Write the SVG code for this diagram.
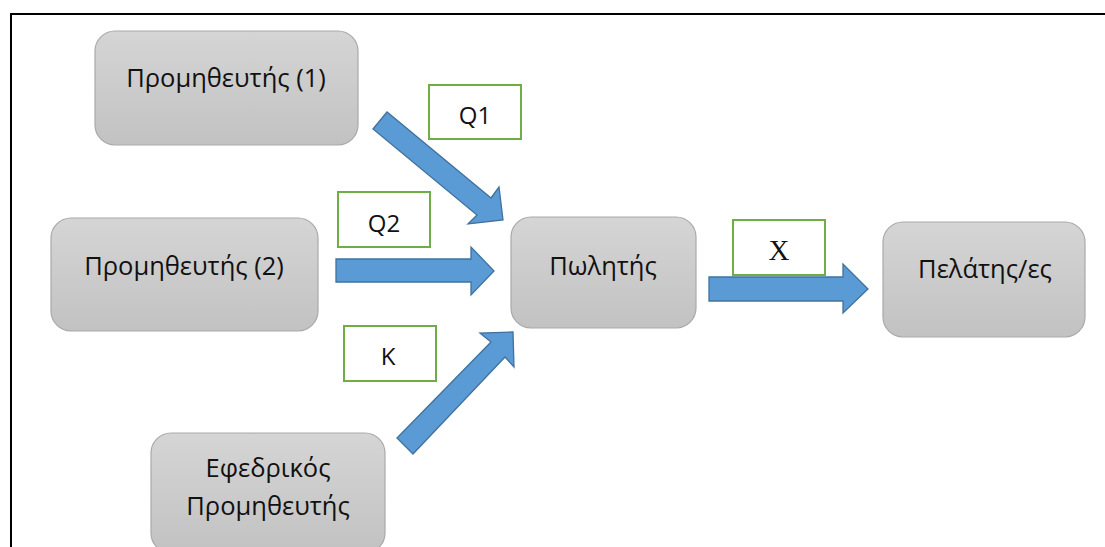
<svg xmlns="http://www.w3.org/2000/svg" width="1105" height="547" viewBox="0 0 1105 547">
  <defs>
    <linearGradient id="nodeFill" x1="0" y1="0" x2="0" y2="1">
      <stop offset="0" stop-color="#d5d5d5"/>
      <stop offset="1" stop-color="#c2c2c2"/>
    </linearGradient>
    <style>
      .node { fill: url(#nodeFill); stroke: #a9a9a9; stroke-width: 1.2; }
      .lbl { font-family: "Open Sans", "Liberation Sans", sans-serif; font-size: 25.5px; fill: #111; text-anchor: middle; }
      .tag { fill: #fff; stroke: #70ad47; stroke-width: 2; }
      .tagtxt { font-family: "Open Sans", "Liberation Sans", sans-serif; font-size: 24px; fill: #111; text-anchor: middle; }
      .arrow { fill: #5b9bd5; stroke: #41719c; stroke-width: 1.3; stroke-linejoin: miter; }
    </style>
  </defs>
  <rect width="1105" height="547" fill="#fff"/>
  <!-- frame -->
  <path d="M11 547 V14 H1105" fill="none" stroke="#000" stroke-width="2"/>

  <g id="supplier1">
    <rect class="node" x="95" y="31" width="263" height="114" rx="20"/>
    <text class="lbl" x="226" y="87">Προμηθευτής (1)</text>
  </g>
  <g id="supplier2">
    <rect class="node" x="51" y="218" width="267" height="113" rx="20"/>
    <text class="lbl" x="184" y="275">Προμηθευτής (2)</text>
  </g>
  <g id="reserve-supplier">
    <rect class="node" x="151" y="433" width="234" height="120" rx="20"/>
    <text class="lbl" x="268" y="477">Εφεδρικός</text>
    <text class="lbl" x="268" y="515">Προμηθευτής</text>
  </g>
  <g id="seller">
    <rect class="node" x="511" y="217" width="185" height="111" rx="20"/>
    <text class="lbl" x="603" y="275">Πωλητής</text>
  </g>
  <g id="customers">
    <rect class="node" x="883" y="222" width="202" height="115" rx="20"/>
    <text class="lbl" x="985" y="278">Πελάτης/ες</text>
  </g>

  <g id="connectors">
    <polygon class="arrow" points="373,129 387,112 491,198 499,187 503,220 468,224 477,215"/>
    <polygon class="arrow" points="336,259 471,259 471,247 494,271 471,295 471,282 336,282"/>
    <polygon class="arrow" points="709,277 843,277 843,264 868,289 843,313 843,301 709,301"/>
    <polygon class="arrow" points="397,438 491,342 480,333 513,332 514,367 505,357 413,454"/>
  </g>

  <g id="tag-q1">
    <rect class="tag" x="429" y="85" width="92" height="54"/>
    <text class="tagtxt" x="475" y="124">Q1</text>
  </g>
  <g id="tag-q2">
    <rect class="tag" x="338" y="192" width="92" height="55"/>
    <text class="tagtxt" x="384" y="232">Q2</text>
  </g>
  <g id="tag-k">
    <rect class="tag" x="344" y="326" width="92" height="55"/>
    <text class="tagtxt" x="388" y="365">Κ</text>
  </g>
  <g id="tag-x">
    <rect class="tag" x="733" y="220" width="92" height="55"/>
    <text class="tagtxt" x="779" y="260" style="font-family: 'Liberation Serif', serif; font-size: 29px;">X</text>
  </g>
</svg>
